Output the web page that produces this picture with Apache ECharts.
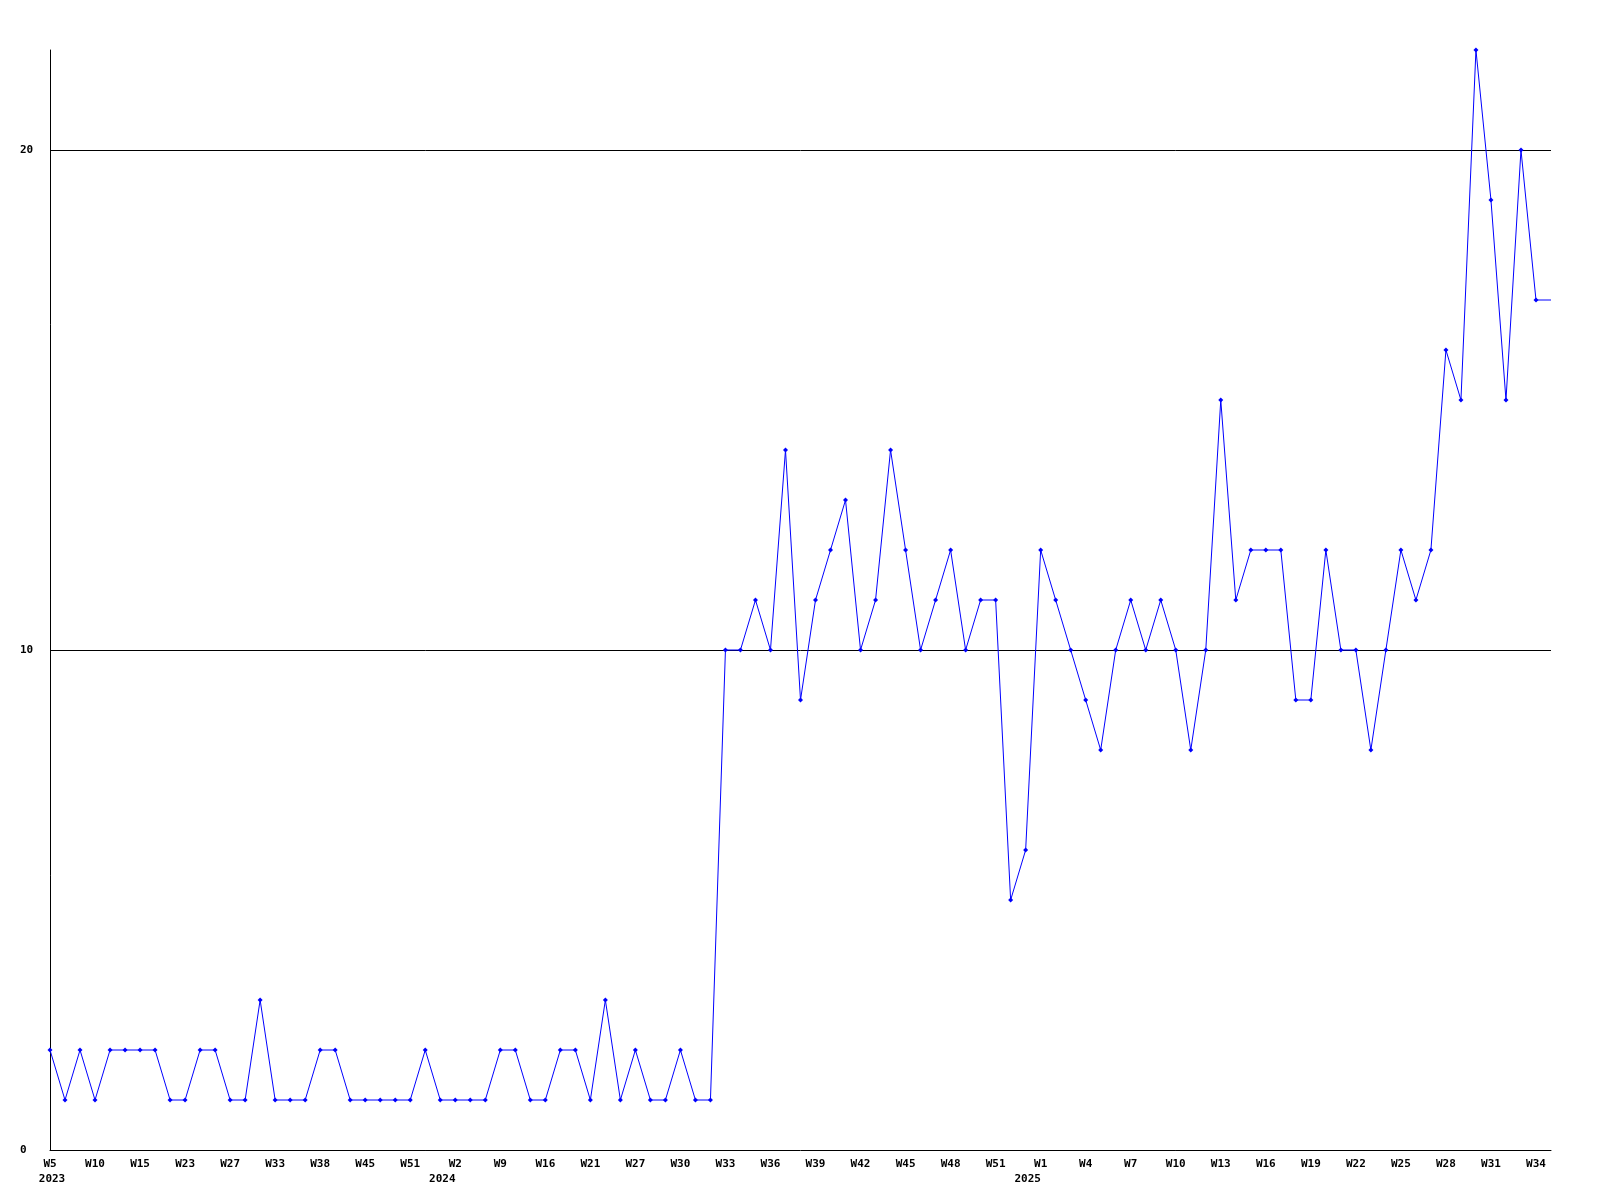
<!DOCTYPE html>
<html>
<head>
<meta charset="utf-8">
<script src="https://cdn.jsdelivr.net/npm/echarts@6/dist/echarts.min.js"></script>
<style>
html,body{margin:0;padding:0;background:#fff;}
#chart{width:1600px;height:1200px;}
</style>
</head>
<body>
<div id="chart"></div>
<script>
// Week categories (only every third one is labelled on the axis)
const weeks = [
  'W5','W6','W8','W10','W11','W13','W15','W17','W20','W23','W24','W26','W27','W29','W31','W33','W35','W36','W38','W40','W43','W45','W47','W49','W51','W52',
  'W1','W2','W5','W7','W9','W11','W14','W16','W18','W19','W21','W23','W25',
  'W27','W28','W29','W30','W31','W32','W33','W34','W35','W36','W37','W38','W39','W40','W41','W42','W43','W44','W45','W46','W47','W48','W49','W50','W51','W52',
  'W0','W1','W2','W3','W4','W5','W6','W7','W8','W9','W10','W11','W12','W13','W14','W15','W16','W17','W18','W19','W20','W21','W22','W23','W24','W25','W26','W27','W28','W29','W30','W31','W32','W33','W34','W35'
];
// Year labels and the category index where each year starts
const yearIndex = [0, 26, 65];
const yearText = ['2023', '2024', '2025'];
// Series values
const values = [
  2,1,2,1,2,2,2,2,1,1,2,2,1,1,3,1,1,1,2,2,1,1,1,1,1,2,1,1,1,1,2,2,1,1,2,2,1,3,1,2,1,1,2,1,1,
  10,10,11,10,14,9,11,12,13,10,
  11,14,12,10,11,12,10,11,11,5,
  6,12,11,10,9,8,10,11,10,11,
  10,8,10,15,11,12,12,12,9,9,
  12,10,10,8,10,12,11,12,16,15,
  22,19,15,20,17,17
];
const yTicks = [0, 10, 20];

const FONT = 'DejaVu Sans Mono';
const lastIdx = values.length - 1;
const seriesData = values.map((v, i) => i === lastIdx ? {value: v, symbol: 'none'} : v);

const chart = echarts.init(document.getElementById('chart'), null, {renderer: 'canvas'});
chart.setOption({
  animation: false,
  backgroundColor: '#ffffff',
  grid: {left: 50, right: 49, top: 50, bottom: 50, containLabel: false},
  xAxis: [{
    type: 'category',
    data: weeks,
    boundaryGap: false,
    position: 'bottom',
    axisLine: {show: true, lineStyle: {color: '#000', width: 1}},
    axisTick: {show: false},
    splitLine: {show: false},
    axisLabel: {
      interval: 2,
      margin: 9,
      color: '#000',
      fontFamily: FONT,
      fontWeight: 'bold',
      fontSize: 11,
      formatter: (v, i) => i === lastIdx ? '' : v
    }
  }, {
    type: 'category',
    data: weeks,
    boundaryGap: false,
    position: 'bottom',
    offset: 15,
    axisLine: {show: false},
    axisTick: {show: false},
    splitLine: {show: false},
    axisLabel: {
      interval: 0,
      margin: 9,
      color: '#000',
      fontFamily: FONT,
      fontWeight: 'bold',
      fontSize: 11,
      padding: [0, 0, 0, 4],
      formatter: (v, i) => {
        const k = yearIndex.indexOf(i);
        return k >= 0 ? yearText[k] : '';
      }
    }
  }],
  yAxis: {
    type: 'value',
    min: 0,
    max: 22,
    interval: 10,
    axisLine: {show: true, lineStyle: {color: '#000', width: 1}},
    axisTick: {show: false},
    splitLine: {show: true, showMinLine: false, showMaxLine: false, lineStyle: {color: '#000', width: 1}},
    axisLabel: {
      showMaxLabel: false,
      align: 'left',
      margin: 30,
      color: '#000',
      fontFamily: FONT,
      fontWeight: 'bold',
      fontSize: 11,
      formatter: v => yTicks.indexOf(v) >= 0 ? String(v) : ''
    }
  },
  series: [{
    type: 'line',
    data: seriesData,
    xAxisIndex: 0,
    symbol: 'diamond',
    symbolSize: 5,
    showAllSymbol: true,
    lineStyle: {color: '#0000ff', width: 1},
    itemStyle: {color: '#0000ff', borderWidth: 0},
    emphasis: {disabled: true}
  }]
});
</script>
</body>
</html>
